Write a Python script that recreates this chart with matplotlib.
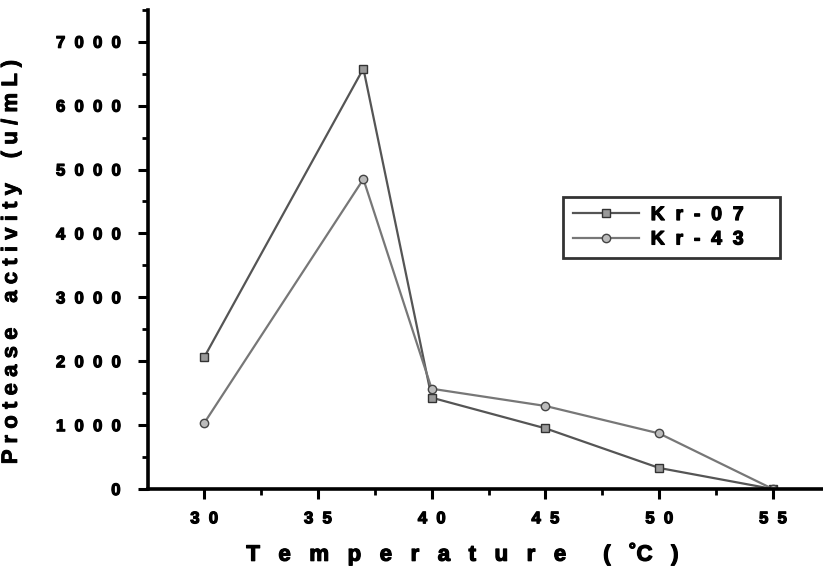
import matplotlib
matplotlib.use("Agg")
import matplotlib.pyplot as plt
import matplotlib.patheffects as pe
from matplotlib.ticker import MultipleLocator, FuncFormatter

temperature = [30, 37, 40, 45, 50, 55]
kr07 = [2060, 6580, 1430, 950, 330, 0]
kr43 = [1030, 4850, 1570, 1300, 870, 0]
x_ticks = [30, 35, 40, 45, 50, 55]
y_ticks = [0, 1000, 2000, 3000, 4000, 5000, 6000, 7000]


def spaced(s, gap=" "):
    return gap.join(s)


heavy = [pe.withStroke(linewidth=0.9, foreground="black")]

plt.rcParams["font.family"] = ["Liberation Sans", "DejaVu Sans"]
plt.rcParams["font.weight"] = "bold"

fig = plt.figure(figsize=(8.23, 5.74), dpi=100)
ax = fig.add_axes([0.18, 0.148, 0.82, 0.835])

ax.plot(temperature, kr07, color="#555555", lw=1.6, marker="s", ms=6,
        mfc="#999999", mec="#333333", mew=1.0,
        label=spaced("Kr-07", "  ") + "     ")
ax.plot(temperature, kr43, color="#777777", lw=1.6, marker="o", ms=6,
        mfc="#bbbbbb", mec="#444444", mew=1.0,
        label=spaced("Kr-43", "  ") + "     ")

ax.set_xlim(27.54, 57.2)
ax.set_ylim(0, 7500)
ax.set_xticks(x_ticks)
ax.set_yticks(y_ticks)
ax.xaxis.set_minor_locator(MultipleLocator(2.5))
ax.yaxis.set_minor_locator(MultipleLocator(500))
fmt = FuncFormatter(lambda v, p: spaced(str(int(round(v))), "  "))
ax.xaxis.set_major_formatter(fmt)
ax.yaxis.set_major_formatter(fmt)

for side in ("top", "right"):
    ax.spines[side].set_visible(False)
for side in ("left", "bottom"):
    ax.spines[side].set_linewidth(2.6)

ax.tick_params(which="major", direction="out", length=7, width=2.2,
               labelsize=12)
ax.tick_params(axis="x", which="major", pad=9)
ax.tick_params(axis="y", which="major", pad=13)
ax.tick_params(which="minor", direction="out", length=4, width=2.0)
for lab in ax.get_xticklabels() + ax.get_yticklabels():
    lab.set_fontweight("bold")
    lab.set_path_effects(heavy)

xl = ax.set_xlabel(spaced("Temperature", "   ") + "      (   ˚C   )",
                   fontsize=16, fontweight="bold")
ax.xaxis.set_label_coords(0.464, -0.112)
xl.set_path_effects(heavy)

yl = ax.set_ylabel(spaced("Protease") + "    " + spaced("activity")
                   + "    " + spaced("(u/mL)"),
                   fontsize=16, fontweight="bold")
ax.yaxis.set_label_coords(-0.187, 0.472)
yl.set_path_effects([pe.withStroke(linewidth=0.6, foreground="black")])

leg = ax.legend(loc="upper left", bbox_to_anchor=(0.615, 0.61), frameon=True,
                fancybox=False, edgecolor="black", fontsize=14, handlelength=3.4,
                borderpad=0.5, labelspacing=0.35, borderaxespad=0,
                handletextpad=0.6)
leg.get_frame().set_linewidth(2.0)
for t in leg.get_texts():
    t.set_fontweight("bold")
    t.set_path_effects(heavy)

fig.savefig("out.png", dpi=100)
